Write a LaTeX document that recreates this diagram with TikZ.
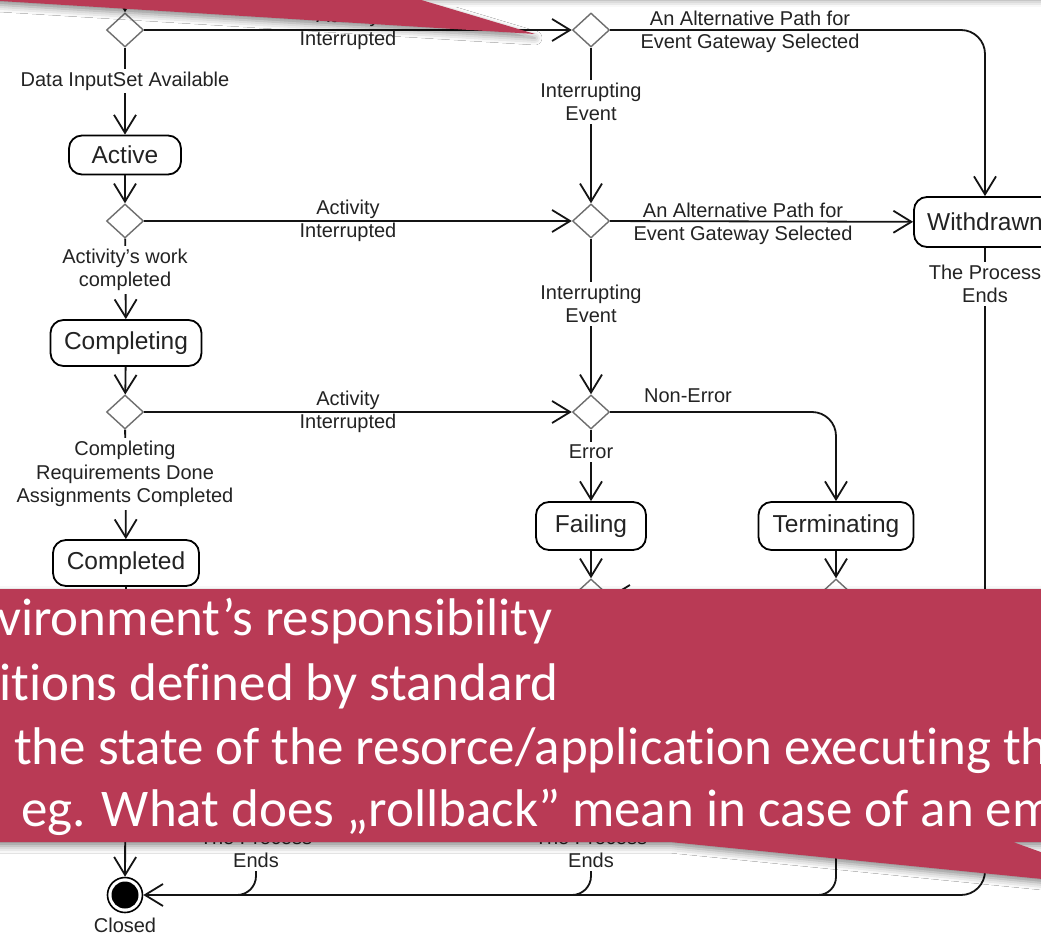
\documentclass[tikz,border=0pt]{standalone}
\usepackage{fontspec}
\setmainfont{Liberation Sans}
\newfontfamily\bannerfont[Ligatures=NoCommon]{Carlito}
\usetikzlibrary{arrows.meta,shapes.geometric,shadows.blur}

\definecolor{slidered}{RGB}{185,58,85}
\definecolor{inkgray}{RGB}{35,35,35}
\definecolor{gategray}{RGB}{110,110,110}

\begin{document}
\begin{tikzpicture}[x=1pt,y=-1pt,
  stbox/.style={draw=black, line width=1.8pt, rounded corners=13pt, text=inkgray,
    font=\fontsize{24.5}{28}\selectfont, inner sep=0pt, minimum height=46pt},
  gate/.style={diamond, draw=gategray, line width=1.4pt, fill=white, inner sep=0pt,
    minimum width=37pt, minimum height=34pt},
  flow/.style={line width=1.8pt, draw=black!92, -{Straight Barb[length=18pt,width=22pt]}},
  plainflow/.style={line width=1.8pt, draw=black!92},
  lbl/.style={font=\fontsize{20}{23.5}\selectfont, text=inkgray, align=center, inner sep=1pt},
  onlbl/.style={lbl, fill=white, inner ysep=3pt},
  bannertext/.style={anchor=base west, inner sep=0pt, text=white,
    font=\bannerfont\fontsize{53}{63}\selectfont},
  callout/.style={fill=slidered, blur shadow={shadow xshift=0pt, shadow yshift=-4pt,
    shadow blur radius=7pt, shadow opacity=45}}
]
\useasboundingbox (0,0) rectangle (1041,936);
\clip (0,0) rectangle (1041,936);
\fill[white] (0,0) rectangle (1041,936);

% ---- gateways ----
\node[gate] (d1) at (125,30) {};
\node[gate] (d2) at (125,221) {};
\node[gate] (d3) at (125,412) {};
\node[gate] (d4) at (591,30) {};
\node[gate] (d5) at (591,221) {};
\node[gate] (d6) at (591,412) {};
\node[gate] (d7) at (591,596) {};
\node[gate] (d8) at (836,596) {};

% ---- states ----
\node[stbox, minimum width=112pt, minimum height=39pt] (active) at (125,155) {Active};
\node[stbox, minimum width=151pt] (completing) at (126,343) {Completing};
\node[stbox, minimum width=146pt] (completed) at (126,563) {Completed};
\node[stbox, minimum width=110pt, minimum height=48pt] (failing) at (591,526) {Failing};
\node[stbox, minimum width=155pt, minimum height=48pt] (terminating) at (836,526) {Terminating};
\node[stbox, minimum width=142pt, minimum height=50pt] (withdrawn) at (985,222) {Withdrawn};

% ---- end state ----
\node[circle, draw=black, line width=1.6pt, fill=white, minimum size=35pt, inner sep=0pt] (closed) at (125,895) {};
\fill[black] (closed.center) circle[radius=13.5pt];
\node[lbl] (closedlbl) at (125,925) {Closed};

% ---- free ends ----
\coordinate (topin) at (125,-40);
\coordinate (d7in) at (720,596);
\coordinate (bendA) at (780,895);
\coordinate (bendB) at (540,895);
\coordinate (hiddenC) at (256,640);
\coordinate (bendC) at (200,895);

% ---- main column ----
\draw[flow] (topin) -- (d1.north);
\draw[flow] (d1) -- (active);
\draw[flow] (active) -- (d2);
\draw[flow] (d2) -- (completing);
\draw[flow] (completing) -- (d3);
\draw[flow] (d3) -- (completed);
\draw[flow] (completed) -- (closed);

% ---- interruptions ----
\draw[flow] (d1) -- (d4);
\draw[flow] (d2) -- (d5);
\draw[flow] (d3) -- (d6);
\draw[flow] (d4) -- (d5);
\draw[flow] (d5) -- (d6);
\draw[flow, rounded corners=24pt] (d4) -| (withdrawn);
\draw[flow] (d5) -- (withdrawn);
\draw[flow, rounded corners=24pt] (d6) -| (terminating);
\draw[flow] (d6) -- (failing);
\draw[flow] (failing) -- (d7);
\draw[flow] (terminating) -- (d8);
\draw[flow] (d7in) -- (d7);

% ---- process ends ----
\draw[flow, rounded corners=24pt] (withdrawn.south) |- (closed);
\draw[plainflow, rounded corners=18pt] (d8) |- (bendA);
\draw[plainflow, rounded corners=19pt] (d7) |- (bendB);
\draw[plainflow, rounded corners=19pt] (hiddenC) |- (bendC);

% ---- labels ----
\node[onlbl] (l1) at (125,81) {Data InputSet Available};
\node[onlbl] (l2) at (125,270) {Activity’s work\\completed};
\node[onlbl] (l3) at (125,474) {Completing\\Requirements Done\\Assignments Completed};
\node[lbl] (l4) at (348,29) {Activity\\Interrupted};
\node[lbl] (l5) at (348,221) {Activity\\Interrupted};
\node[lbl] (l6) at (348,412) {Activity\\Interrupted};
\node[lbl] (l7) at (750,32) {An Alternative Path for\\Event Gateway Selected};
\node[lbl] (l8) at (743,224) {An Alternative Path for\\Event Gateway Selected};
\node[onlbl] (l9) at (591,102) {Interrupting\\Event};
\node[onlbl] (l10) at (591,304) {Interrupting\\Event};
\node[lbl] (l11) at (688,396) {Non-Error};
\node[onlbl] (l12) at (591,452) {Error};
\node[onlbl] (l13) at (985,284) {The Process\\Ends};
\node[onlbl] (l14) at (591,849) {The Process\\Ends};
\node[onlbl] (l15) at (256,849) {The Process\\Ends};

% ---- callouts ----
\path[callout] (-30,-200) -- (1100,-200) -- (1100,-4) -- (408,-4) -- (535,34) -- (0,1) -- (-30,0) -- cycle;
\path[callout] (-30,589) -- (1100,589) -- (1100,842) -- (1013,842) -- (1143,889) -- (670,842) -- (-30,842) -- cycle;

\node[bannertext] (t1) at (-3,635) {vironment’s responsibility};
\node[bannertext] (t2) at (-1,700) {itions defined by standard};
\node[bannertext] (t3) at (14,764) {the state of the resorce/application executing th};
\node[bannertext] (t4) at (21,826) {eg. What does „rollback” mean in case of an em};
\end{tikzpicture}
\end{document}
